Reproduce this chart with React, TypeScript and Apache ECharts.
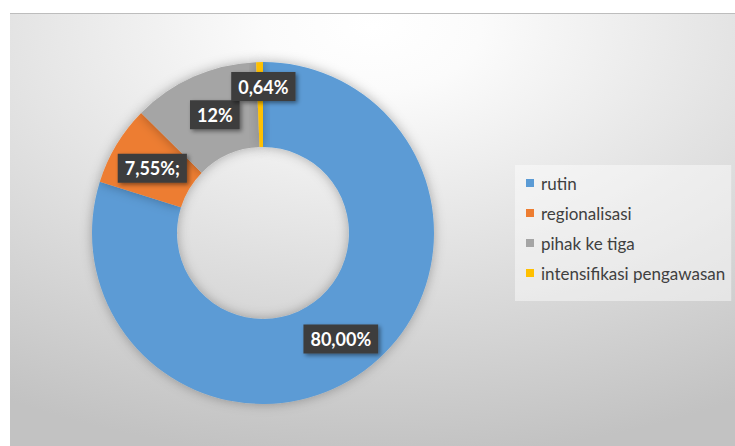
import React, { useEffect, useRef } from "react";
import * as echarts from "echarts";

const categories = ["rutin", "regionalisasi", "pihak ke tiga", "intensifikasi pengawasan"];
const values = [80.0, 7.55, 12, 0.64];
const labelTexts = ["80,00%", "7,55%;", "12%", "0,64%"];
const colors = ["#5B9BD5", "#ED7D31", "#A5A5A5", "#FFC000"];
const labelOffsets: [number, number][] = [[0, 0], [2, 3], [5, 2], [3, -15]];

export default function App() {
  const ref = useRef<HTMLDivElement>(null);
  useEffect(() => {
    if (!ref.current) return;
    const chart = echarts.init(ref.current, null, { renderer: "svg" });
    chart.setOption({
      animation: false,
      graphic: [
        {
          type: "rect",
          z: -100,
          silent: true,
          shape: { x: 10, y: 13, width: 725, height: 433 },
          style: {
            fill: {
              type: "radial",
              x: 0.5,
              y: 0.03,
              r: 1.0,
              colorStops: [
                { offset: 0, color: "#ffffff" },
                { offset: 0.15, color: "#fbfbfb" },
                { offset: 1, color: "#c2c2c2" },
              ],
            },
          },
        },
        {
          type: "line",
          z: -99,
          silent: true,
          shape: { x1: 10, y1: 13.5, x2: 735, y2: 13.5 },
          style: { stroke: "#bdbdbd", lineWidth: 1 },
        },
      ],
      legend: {
        orient: "vertical",
        left: 515,
        top: 165,
        icon: "rect",
        itemWidth: 8,
        itemHeight: 8,
        itemGap: 10,
        padding: [8, 6, 18, 11],
        backgroundColor: "rgba(255,255,255,0.45)",
        textStyle: {
          fontFamily: "Lato",
          fontSize: 17,
          color: "#404040",
          lineHeight: 20,
          padding: [0, 0, 0, 2],
        },
        data: categories,
      },
      series: [
        {
          type: "pie",
          center: [263, 233],
          radius: [86, 171],
          startAngle: 90,
          clockwise: true,
          avoidLabelOverlap: false,
          labelLayout: { hideOverlap: false },
          itemStyle: {
            shadowBlur: 12,
            shadowColor: "rgba(0,0,0,0.3)",
          },
          label: {
            show: true,
            position: "inside",
            color: "#ffffff",
            fontFamily: "Lato",
            fontWeight: "bold",
            fontSize: 18,
            backgroundColor: "#3d3d3d",
            padding: [6, 7, 5, 7],
            shadowBlur: 4,
            shadowColor: "rgba(0,0,0,0.45)",
            shadowOffsetX: 2,
            shadowOffsetY: 2,
          },
          labelLine: { show: false },
          emphasis: { disabled: true },
          data: categories.map((name, i) => ({
            name,
            value: values[i],
            itemStyle: { color: colors[i] },
            label: { formatter: labelTexts[i], offset: labelOffsets[i] },
          })),
        },
      ],
    });
    return () => chart.dispose();
  }, []);
  return (
    <div
      ref={ref}
      style={{ position: "absolute", left: 0, top: 0, width: 735, height: 446, background: "#ffffff" }}
    />
  );
}
